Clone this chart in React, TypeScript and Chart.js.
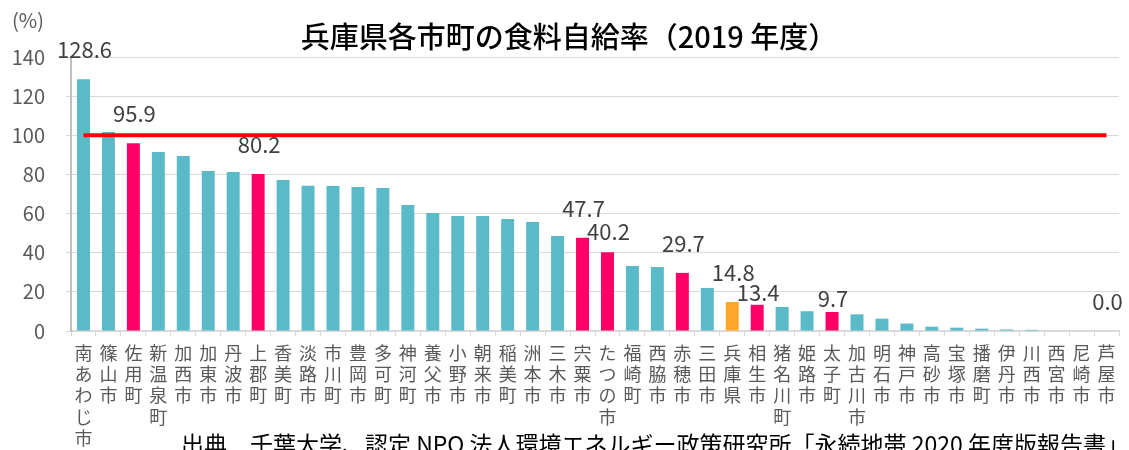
import React, { useEffect, useRef } from "react";
import { Chart, registerables } from "chart.js";

Chart.register(...registerables);

const TITLE = "兵庫県各市町の食料自給率（2019 年度）";
const UNIT = "(%)";
const SOURCE = "出典　千葉大学、認定 NPO 法人環境エネルギー政策研究所「永続地帯 2020 年度版報告書」";

const municipalities = [
  "南あわじ市", "篠山市", "佐用町", "新温泉町", "加西市", "加東市", "丹波市", "上郡町",
  "香美町", "淡路市", "市川町", "豊岡市", "多可町", "神河町", "養父市", "小野市",
  "朝来市", "稲美町", "洲本市", "三木市", "宍粟市", "たつの市", "福崎町", "西脇市",
  "赤穂市", "三田市", "兵庫県", "相生市", "猪名川町", "姫路市", "太子町", "加古川市",
  "明石市", "神戸市", "高砂市", "宝塚市", "播磨町", "伊丹市", "川西市", "西宮市",
  "尼崎市", "芦屋市",
];

const selfSufficiency = [
  128.6, 101.7, 95.9, 91.5, 89.4, 81.8, 81.2, 80.2,
  77.2, 74.2, 74.1, 73.6, 73.1, 64.4, 60.3, 58.8,
  58.7, 57.2, 55.7, 48.5, 47.7, 40.2, 33.2, 32.7,
  29.7, 22.0, 14.8, 13.4, 12.3, 10.1, 9.7, 8.5,
  6.3, 3.8, 2.2, 1.7, 1.2, 0.8, 0.6, 0.0,
  0.0, 0.0,
];

const highlightedTowns = ["佐用町", "上郡町", "宍粟市", "たつの市", "赤穂市", "相生市", "太子町"];
const prefectureName = "兵庫県";
const labelledTowns = ["南あわじ市", "佐用町", "上郡町", "宍粟市", "たつの市", "赤穂市", "兵庫県", "相生市", "太子町", "芦屋市"];

const referenceLevel = 100;
const yTicks = [0, 20, 40, 60, 80, 100, 120, 140];

// style settings
const TEAL = "#5bbac8";
const PINK = "#ff0066";
const ORANGE = "#ffa62b";
const RED = "#ff0000";
const GRID = "#d9d9d9";
const TEXT_GREY = "#595959";
const FONT = "'Noto Sans CJK JP', 'Noto Sans', sans-serif";
const LABEL_RAISE_DEFAULT = 29.5;
const LABEL_RAISE: Record<string, number> = { "たつの市": 21, "相生市": 12, "太子町": 13.5 };

export default function App() {
  const canvasRef = useRef<HTMLCanvasElement | null>(null);

  useEffect(() => {
    const canvas = canvasRef.current;
    if (!canvas) return;

    const barColors = municipalities.map((m) =>
      m === prefectureName ? ORANGE : highlightedTowns.includes(m) ? PINK : TEAL
    );

    const decorPlugin = {
      id: "decor",
      afterDatasetsDraw(chart: any) {
        const ctx = chart.ctx;
        const meta = chart.getDatasetMeta(1);
        ctx.save();
        ctx.fillStyle = "#404040";
        ctx.font = `22px ${FONT}`;
        ctx.textAlign = "center";
        ctx.textBaseline = "middle";
        municipalities.forEach((m, i) => {
          if (!labelledTowns.includes(m)) return;
          const el = meta.data[i];
          const raise = LABEL_RAISE[m] ?? LABEL_RAISE_DEFAULT;
          ctx.fillText(selfSufficiency[i].toFixed(1), el.x + 1, el.y - raise);
        });
        ctx.restore();
      },
      afterDraw(chart: any) {
        const ctx = chart.ctx;
        ctx.save();
        ctx.fillStyle = "#000000";
        ctx.font = `500 29px ${FONT}`;
        ctx.textAlign = "center";
        ctx.textBaseline = "middle";
        ctx.fillText(TITLE, 569, 37);

        ctx.fillStyle = TEXT_GREY;
        ctx.font = `20px ${FONT}`;
        ctx.textAlign = "left";
        ctx.fillText(UNIT, 12, 20);

        ctx.fillStyle = "#000000";
        ctx.font = `23px ${FONT}`;
        ctx.textAlign = "left";
        ctx.textBaseline = "alphabetic";
        ctx.fillText(SOURCE, 181, 453);
        ctx.restore();
      },
    };

    const chart = new Chart(canvas, {
      type: "bar",
      data: {
        labels: municipalities.map((m) => m.split("")),
        datasets: [
          {
            type: "line",
            data: municipalities.map(() => referenceLevel),
            borderColor: RED,
            borderWidth: 4,
            pointRadius: 0,
            fill: false,
            order: 0,
          } as any,
          {
            type: "bar",
            data: selfSufficiency,
            backgroundColor: barColors,
            categoryPercentage: 1,
            barPercentage: 0.52,
            order: 1,
          },
        ],
      },
      options: {
        animation: false,
        responsive: true,
        maintainAspectRatio: false,
        layout: { padding: { top: 57, right: 10, left: 0, bottom: 0 } },
        plugins: {
          legend: { display: false },
          tooltip: { enabled: false },
          title: { display: false },
        },
        scales: {
          x: {
            afterFit(scale: any) {
              scale.height = 119;
            },
            grid: {
              display: true,
              drawOnChartArea: false,
              drawTicks: true,
              tickLength: 5,
              color: GRID,
              offset: true,
            },
            border: { display: true, color: GRID, width: 2 },
            ticks: {
              autoSkip: false,
              maxRotation: 0,
              minRotation: 0,
              color: TEXT_GREY,
              padding: 7,
              font: { family: FONT, size: 18, lineHeight: 1.17 },
            },
          },
          y: {
            min: 0,
            max: 140,
            afterFit(scale: any) {
              scale.width = 71;
            },
            afterBuildTicks(scale: any) {
              scale.ticks = yTicks.map((v) => ({ value: v }));
            },
            grid: { color: GRID, lineWidth: 1, tickLength: 5, drawTicks: true },
            border: { display: true, color: "#bfbfbf", width: 2 },
            ticks: {
              color: TEXT_GREY,
              padding: 21,
              font: { family: FONT, size: 20 },
            },
          },
        },
      },
      plugins: [decorPlugin],
    });

    return () => chart.destroy();
  }, []);

  return (
    <div style={{ position: "absolute", left: 0, top: 0, width: 1129, height: 450, background: "#fff" }}>
      <canvas ref={canvasRef} style={{ width: "100%", height: "100%" }} />
    </div>
  );
}
